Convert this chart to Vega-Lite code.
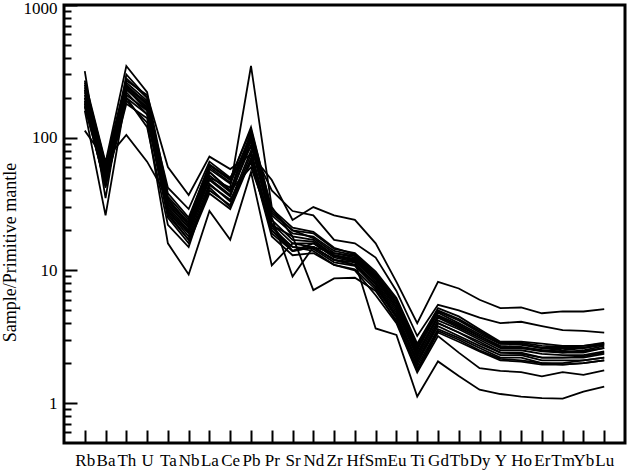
{
  "$schema": "https://vega.github.io/schema/vega-lite/v6.json",
  "width": 561,
  "height": 438,
  "autosize": "none",
  "padding": {"left": 64, "top": 5, "right": 2, "bottom": 29},
  "background": "white",
  "config": {
    "view": {"stroke": "black", "strokeWidth": 3},
    "font": "Liberation Serif"
  },
  "datasets": {
    "spider": [
      {"s":1,"e":"Rb","v":250},{"s":1,"e":"Ba","v":55},{"s":1,"e":"Th","v":270},{"s":1,"e":"U","v":210},{"s":1,"e":"Ta","v":60},{"s":1,"e":"Nb","v":37},{"s":1,"e":"La","v":72},{"s":1,"e":"Ce","v":58},{"s":1,"e":"Pb","v":75},{"s":1,"e":"Pr","v":48},{"s":1,"e":"Sr","v":24},{"s":1,"e":"Nd","v":30},{"s":1,"e":"Zr","v":26},{"s":1,"e":"Hf","v":24},{"s":1,"e":"Sm","v":16},{"s":1,"e":"Eu","v":8.2},{"s":1,"e":"Ti","v":4.0},{"s":1,"e":"Gd","v":8.2},{"s":1,"e":"Tb","v":7.3},{"s":1,"e":"Dy","v":6.0},{"s":1,"e":"Y","v":5.2},{"s":1,"e":"Ho","v":5.25},{"s":1,"e":"Er","v":4.75},{"s":1,"e":"Tm","v":4.9},{"s":1,"e":"Yb","v":4.9},{"s":1,"e":"Lu","v":5.1},
      {"s":2,"e":"Rb","v":230},{"s":2,"e":"Ba","v":62},{"s":2,"e":"Th","v":240},{"s":2,"e":"U","v":185},{"s":2,"e":"Ta","v":42},{"s":2,"e":"Nb","v":29},{"s":2,"e":"La","v":66},{"s":2,"e":"Ce","v":50},{"s":2,"e":"Pb","v":85},{"s":2,"e":"Pr","v":40},{"s":2,"e":"Sr","v":28},{"s":2,"e":"Nd","v":26},{"s":2,"e":"Zr","v":17},{"s":2,"e":"Hf","v":16},{"s":2,"e":"Sm","v":12.5},{"s":2,"e":"Eu","v":7},{"s":2,"e":"Ti","v":3.2},{"s":2,"e":"Gd","v":5.5},{"s":2,"e":"Tb","v":5.0},{"s":2,"e":"Dy","v":4.4},{"s":2,"e":"Y","v":4.0},{"s":2,"e":"Ho","v":4.1},{"s":2,"e":"Er","v":3.8},{"s":2,"e":"Tm","v":3.55},{"s":2,"e":"Yb","v":3.5},{"s":2,"e":"Lu","v":3.4},
      {"s":3,"e":"Rb","v":113},{"s":3,"e":"Ba","v":68},{"s":3,"e":"Th","v":105},{"s":3,"e":"U","v":66},{"s":3,"e":"Ta","v":35},{"s":3,"e":"Nb","v":22},{"s":3,"e":"La","v":55},{"s":3,"e":"Ce","v":40},{"s":3,"e":"Pb","v":60},{"s":3,"e":"Pr","v":22},{"s":3,"e":"Sr","v":14},{"s":3,"e":"Nd","v":16},{"s":3,"e":"Zr","v":12.5},{"s":3,"e":"Hf","v":11.6},{"s":3,"e":"Sm","v":3.65},{"s":3,"e":"Eu","v":3.26},{"s":3,"e":"Ti","v":1.12},{"s":3,"e":"Gd","v":2.06},{"s":3,"e":"Tb","v":1.6},{"s":3,"e":"Dy","v":1.26},{"s":3,"e":"Y","v":1.17},{"s":3,"e":"Ho","v":1.12},{"s":3,"e":"Er","v":1.09},{"s":3,"e":"Tm","v":1.08},{"s":3,"e":"Yb","v":1.22},{"s":3,"e":"Lu","v":1.33},
      {"s":4,"e":"Rb","v":180},{"s":4,"e":"Ba","v":48},{"s":4,"e":"Th","v":200},{"s":4,"e":"U","v":150},{"s":4,"e":"Ta","v":28},{"s":4,"e":"Nb","v":18},{"s":4,"e":"La","v":45},{"s":4,"e":"Ce","v":33},{"s":4,"e":"Pb","v":80},{"s":4,"e":"Pr","v":20},{"s":4,"e":"Sr","v":15},{"s":4,"e":"Nd","v":14},{"s":4,"e":"Zr","v":11},{"s":4,"e":"Hf","v":10},{"s":4,"e":"Sm","v":6.5},{"s":4,"e":"Eu","v":4.0},{"s":4,"e":"Ti","v":1.7},{"s":4,"e":"Gd","v":3.2},{"s":4,"e":"Tb","v":2.4},{"s":4,"e":"Dy","v":1.83},{"s":4,"e":"Y","v":1.75},{"s":4,"e":"Ho","v":1.71},{"s":4,"e":"Er","v":1.59},{"s":4,"e":"Tm","v":1.71},{"s":4,"e":"Yb","v":1.63},{"s":4,"e":"Lu","v":1.76},
      {"s":5,"e":"Rb","v":200},{"s":5,"e":"Ba","v":58},{"s":5,"e":"Th","v":230},{"s":5,"e":"U","v":170},{"s":5,"e":"Ta","v":30},{"s":5,"e":"Nb","v":20},{"s":5,"e":"La","v":50},{"s":5,"e":"Ce","v":42},{"s":5,"e":"Pb","v":347},{"s":5,"e":"Pr","v":30},{"s":5,"e":"Sr","v":18},{"s":5,"e":"Nd","v":17},{"s":5,"e":"Zr","v":13},{"s":5,"e":"Hf","v":12},{"s":5,"e":"Sm","v":8.5},{"s":5,"e":"Eu","v":5.2},{"s":5,"e":"Ti","v":2.3},{"s":5,"e":"Gd","v":4.4},{"s":5,"e":"Tb","v":3.7},{"s":5,"e":"Dy","v":3.1},{"s":5,"e":"Y","v":2.6},{"s":5,"e":"Ho","v":2.6},{"s":5,"e":"Er","v":2.5},{"s":5,"e":"Tm","v":2.4},{"s":5,"e":"Yb","v":2.4},{"s":5,"e":"Lu","v":2.6},
      {"s":6,"e":"Rb","v":170},{"s":6,"e":"Ba","v":45},{"s":6,"e":"Th","v":190},{"s":6,"e":"U","v":130},{"s":6,"e":"Ta","v":16},{"s":6,"e":"Nb","v":9.3},{"s":6,"e":"La","v":28},{"s":6,"e":"Ce","v":17},{"s":6,"e":"Pb","v":55},{"s":6,"e":"Pr","v":10.9},{"s":6,"e":"Sr","v":16},{"s":6,"e":"Nd","v":15},{"s":6,"e":"Zr","v":12},{"s":6,"e":"Hf","v":11},{"s":6,"e":"Sm","v":7.5},{"s":6,"e":"Eu","v":4.5},{"s":6,"e":"Ti","v":2.0},{"s":6,"e":"Gd","v":3.8},{"s":6,"e":"Tb","v":3.2},{"s":6,"e":"Dy","v":2.7},{"s":6,"e":"Y","v":2.3},{"s":6,"e":"Ho","v":2.3},{"s":6,"e":"Er","v":2.1},{"s":6,"e":"Tm","v":2.1},{"s":6,"e":"Yb","v":2.1},{"s":6,"e":"Lu","v":2.2},
      {"s":7,"e":"Rb","v":318},{"s":7,"e":"Ba","v":35},{"s":7,"e":"Th","v":300},{"s":7,"e":"U","v":200},{"s":7,"e":"Ta","v":32},{"s":7,"e":"Nb","v":21},{"s":7,"e":"La","v":55},{"s":7,"e":"Ce","v":40},{"s":7,"e":"Pb","v":110},{"s":7,"e":"Pr","v":25},{"s":7,"e":"Sr","v":9},{"s":7,"e":"Nd","v":15},{"s":7,"e":"Zr","v":13.5},{"s":7,"e":"Hf","v":12.5},{"s":7,"e":"Sm","v":8.8},{"s":7,"e":"Eu","v":5.5},{"s":7,"e":"Ti","v":2.5},{"s":7,"e":"Gd","v":4.8},{"s":7,"e":"Tb","v":4.0},{"s":7,"e":"Dy","v":3.3},{"s":7,"e":"Y","v":2.8},{"s":7,"e":"Ho","v":2.8},{"s":7,"e":"Er","v":2.6},{"s":7,"e":"Tm","v":2.5},{"s":7,"e":"Yb","v":2.6},{"s":7,"e":"Lu","v":2.8},
      {"s":8,"e":"Rb","v":220},{"s":8,"e":"Ba","v":50},{"s":8,"e":"Th","v":250},{"s":8,"e":"U","v":175},{"s":8,"e":"Ta","v":28},{"s":8,"e":"Nb","v":19},{"s":8,"e":"La","v":48},{"s":8,"e":"Ce","v":36},{"s":8,"e":"Pb","v":95},{"s":8,"e":"Pr","v":22},{"s":8,"e":"Sr","v":18},{"s":8,"e":"Nd","v":7.1},{"s":8,"e":"Zr","v":8.7},{"s":8,"e":"Hf","v":8.8},{"s":8,"e":"Sm","v":7.0},{"s":8,"e":"Eu","v":4.2},{"s":8,"e":"Ti","v":1.9},{"s":8,"e":"Gd","v":3.6},{"s":8,"e":"Tb","v":3.1},{"s":8,"e":"Dy","v":2.6},{"s":8,"e":"Y","v":2.2},{"s":8,"e":"Ho","v":2.2},{"s":8,"e":"Er","v":2.0},{"s":8,"e":"Tm","v":2.0},{"s":8,"e":"Yb","v":2.1},{"s":8,"e":"Lu","v":2.2},
      {"s":9,"e":"Rb","v":160},{"s":9,"e":"Ba","v":26},{"s":9,"e":"Th","v":210},{"s":9,"e":"U","v":160},{"s":9,"e":"Ta","v":27},{"s":9,"e":"Nb","v":17},{"s":9,"e":"La","v":42},{"s":9,"e":"Ce","v":30},{"s":9,"e":"Pb","v":70},{"s":9,"e":"Pr","v":19},{"s":9,"e":"Sr","v":14},{"s":9,"e":"Nd","v":15},{"s":9,"e":"Zr","v":12},{"s":9,"e":"Hf","v":11.5},{"s":9,"e":"Sm","v":7.8},{"s":9,"e":"Eu","v":4.6},{"s":9,"e":"Ti","v":2.1},{"s":9,"e":"Gd","v":4.0},{"s":9,"e":"Tb","v":3.4},{"s":9,"e":"Dy","v":2.8},{"s":9,"e":"Y","v":2.4},{"s":9,"e":"Ho","v":2.4},{"s":9,"e":"Er","v":2.2},{"s":9,"e":"Tm","v":2.2},{"s":9,"e":"Yb","v":2.2},{"s":9,"e":"Lu","v":2.35},
      {"s":10,"e":"Rb","v":270},{"s":10,"e":"Ba","v":65},{"s":10,"e":"Th","v":347},{"s":10,"e":"U","v":220},{"s":10,"e":"Ta","v":38},{"s":10,"e":"Nb","v":25},{"s":10,"e":"La","v":62},{"s":10,"e":"Ce","v":48},{"s":10,"e":"Pb","v":120},{"s":10,"e":"Pr","v":28},{"s":10,"e":"Sr","v":20},{"s":10,"e":"Nd","v":19},{"s":10,"e":"Zr","v":14.5},{"s":10,"e":"Hf","v":13.5},{"s":10,"e":"Sm","v":9.8},{"s":10,"e":"Eu","v":6.2},{"s":10,"e":"Ti","v":2.8},{"s":10,"e":"Gd","v":5.2},{"s":10,"e":"Tb","v":4.5},{"s":10,"e":"Dy","v":3.6},{"s":10,"e":"Y","v":2.9},{"s":10,"e":"Ho","v":2.9},{"s":10,"e":"Er","v":2.8},{"s":10,"e":"Tm","v":2.7},{"s":10,"e":"Yb","v":2.7},{"s":10,"e":"Lu","v":2.85},
      {"s":11,"e":"Rb","v":240},{"s":11,"e":"Ba","v":60},{"s":11,"e":"Th","v":260},{"s":11,"e":"U","v":190},{"s":11,"e":"Ta","v":33},{"s":11,"e":"Nb","v":22},{"s":11,"e":"La","v":58},{"s":11,"e":"Ce","v":45},{"s":11,"e":"Pb","v":105},{"s":11,"e":"Pr","v":26},{"s":11,"e":"Sr","v":19},{"s":11,"e":"Nd","v":18},{"s":11,"e":"Zr","v":14},{"s":11,"e":"Hf","v":13},{"s":11,"e":"Sm","v":9.2},{"s":11,"e":"Eu","v":5.8},{"s":11,"e":"Ti","v":2.6},{"s":11,"e":"Gd","v":4.9},{"s":11,"e":"Tb","v":4.2},{"s":11,"e":"Dy","v":3.4},{"s":11,"e":"Y","v":2.8},{"s":11,"e":"Ho","v":2.75},{"s":11,"e":"Er","v":2.6},{"s":11,"e":"Tm","v":2.6},{"s":11,"e":"Yb","v":2.6},{"s":11,"e":"Lu","v":2.75},
      {"s":12,"e":"Rb","v":190},{"s":12,"e":"Ba","v":42},{"s":12,"e":"Th","v":220},{"s":12,"e":"U","v":150},{"s":12,"e":"Ta","v":26},{"s":12,"e":"Nb","v":17},{"s":12,"e":"La","v":40},{"s":12,"e":"Ce","v":31},{"s":12,"e":"Pb","v":75},{"s":12,"e":"Pr","v":21},{"s":12,"e":"Sr","v":15},{"s":12,"e":"Nd","v":14.5},{"s":12,"e":"Zr","v":11.5},{"s":12,"e":"Hf","v":10.8},{"s":12,"e":"Sm","v":7.5},{"s":12,"e":"Eu","v":4.4},{"s":12,"e":"Ti","v":1.8},{"s":12,"e":"Gd","v":3.5},{"s":12,"e":"Tb","v":3.0},{"s":12,"e":"Dy","v":2.5},{"s":12,"e":"Y","v":2.15},{"s":12,"e":"Ho","v":2.1},{"s":12,"e":"Er","v":2.0},{"s":12,"e":"Tm","v":1.95},{"s":12,"e":"Yb","v":2.0},{"s":12,"e":"Lu","v":2.1},
      {"s":13,"e":"Rb","v":210},{"s":13,"e":"Ba","v":54},{"s":13,"e":"Th","v":245},{"s":13,"e":"U","v":165},{"s":13,"e":"Ta","v":31},{"s":13,"e":"Nb","v":21},{"s":13,"e":"La","v":52},{"s":13,"e":"Ce","v":39},{"s":13,"e":"Pb","v":100},{"s":13,"e":"Pr","v":24},{"s":13,"e":"Sr","v":17},{"s":13,"e":"Nd","v":16.5},{"s":13,"e":"Zr","v":13},{"s":13,"e":"Hf","v":12.2},{"s":13,"e":"Sm","v":8.6},{"s":13,"e":"Eu","v":5.3},{"s":13,"e":"Ti","v":2.4},{"s":13,"e":"Gd","v":4.5},{"s":13,"e":"Tb","v":3.8},{"s":13,"e":"Dy","v":3.2},{"s":13,"e":"Y","v":2.7},{"s":13,"e":"Ho","v":2.65},{"s":13,"e":"Er","v":2.5},{"s":13,"e":"Tm","v":2.45},{"s":13,"e":"Yb","v":2.45},{"s":13,"e":"Lu","v":2.6},
      {"s":14,"e":"Rb","v":260},{"s":14,"e":"Ba","v":63},{"s":14,"e":"Th","v":280},{"s":14,"e":"U","v":200},{"s":14,"e":"Ta","v":36},{"s":14,"e":"Nb","v":24},{"s":14,"e":"La","v":63},{"s":14,"e":"Ce","v":49},{"s":14,"e":"Pb","v":115},{"s":14,"e":"Pr","v":29},{"s":14,"e":"Sr","v":21},{"s":14,"e":"Nd","v":19.5},{"s":14,"e":"Zr","v":14.8},{"s":14,"e":"Hf","v":13.2},{"s":14,"e":"Sm","v":9.5},{"s":14,"e":"Eu","v":6.0},{"s":14,"e":"Ti","v":2.7},{"s":14,"e":"Gd","v":5.0},{"s":14,"e":"Tb","v":4.3},{"s":14,"e":"Dy","v":3.5},{"s":14,"e":"Y","v":2.85},{"s":14,"e":"Ho","v":2.85},{"s":14,"e":"Er","v":2.7},{"s":14,"e":"Tm","v":2.65},{"s":14,"e":"Yb","v":2.7},{"s":14,"e":"Lu","v":2.8},
      {"s":15,"e":"Rb","v":175},{"s":15,"e":"Ba","v":44},{"s":15,"e":"Th","v":180},{"s":15,"e":"U","v":140},{"s":15,"e":"Ta","v":25},{"s":15,"e":"Nb","v":16},{"s":15,"e":"La","v":38},{"s":15,"e":"Ce","v":29},{"s":15,"e":"Pb","v":68},{"s":15,"e":"Pr","v":18},{"s":15,"e":"Sr","v":13},{"s":15,"e":"Nd","v":13.5},{"s":15,"e":"Zr","v":11},{"s":15,"e":"Hf","v":10.2},{"s":15,"e":"Sm","v":7.2},{"s":15,"e":"Eu","v":4.1},{"s":15,"e":"Ti","v":1.75},{"s":15,"e":"Gd","v":3.4},{"s":15,"e":"Tb","v":2.9},{"s":15,"e":"Dy","v":2.45},{"s":15,"e":"Y","v":2.1},{"s":15,"e":"Ho","v":2.05},{"s":15,"e":"Er","v":1.95},{"s":15,"e":"Tm","v":1.95},{"s":15,"e":"Yb","v":2.0},{"s":15,"e":"Lu","v":2.1},
      {"s":16,"e":"Rb","v":200},{"s":16,"e":"Ba","v":52},{"s":16,"e":"Th","v":235},{"s":16,"e":"U","v":160},{"s":16,"e":"Ta","v":29},{"s":16,"e":"Nb","v":19.5},{"s":16,"e":"La","v":49},{"s":16,"e":"Ce","v":37},{"s":16,"e":"Pb","v":88},{"s":16,"e":"Pr","v":22.5},{"s":16,"e":"Sr","v":16},{"s":16,"e":"Nd","v":16},{"s":16,"e":"Zr","v":12.8},{"s":16,"e":"Hf","v":11.8},{"s":16,"e":"Sm","v":8.2},{"s":16,"e":"Eu","v":5.0},{"s":16,"e":"Ti","v":2.2},{"s":16,"e":"Gd","v":4.2},{"s":16,"e":"Tb","v":3.6},{"s":16,"e":"Dy","v":3.0},{"s":16,"e":"Y","v":2.5},{"s":16,"e":"Ho","v":2.5},{"s":16,"e":"Er","v":2.35},{"s":16,"e":"Tm","v":2.3},{"s":16,"e":"Yb","v":2.3},{"s":16,"e":"Lu","v":2.45},
      {"s":17,"e":"Rb","v":230},{"s":17,"e":"Ba","v":57},{"s":17,"e":"Th","v":250},{"s":17,"e":"U","v":180},{"s":17,"e":"Ta","v":34},{"s":17,"e":"Nb","v":23},{"s":17,"e":"La","v":60},{"s":17,"e":"Ce","v":46},{"s":17,"e":"Pb","v":100},{"s":17,"e":"Pr","v":27},{"s":17,"e":"Sr","v":20},{"s":17,"e":"Nd","v":17.5},{"s":17,"e":"Zr","v":13.5},{"s":17,"e":"Hf","v":12.8},{"s":17,"e":"Sm","v":9.0},{"s":17,"e":"Eu","v":5.6},{"s":17,"e":"Ti","v":2.3},{"s":17,"e":"Gd","v":4.6},{"s":17,"e":"Tb","v":3.9},{"s":17,"e":"Dy","v":3.2},{"s":17,"e":"Y","v":2.65},{"s":17,"e":"Ho","v":2.6},{"s":17,"e":"Er","v":2.45},{"s":17,"e":"Tm","v":2.4},{"s":17,"e":"Yb","v":2.5},{"s":17,"e":"Lu","v":2.7},
      {"s":18,"e":"Rb","v":185},{"s":18,"e":"Ba","v":47},{"s":18,"e":"Th","v":200},{"s":18,"e":"U","v":120},{"s":18,"e":"Ta","v":22},{"s":18,"e":"Nb","v":15},{"s":18,"e":"La","v":44},{"s":18,"e":"Ce","v":34},{"s":18,"e":"Pb","v":65},{"s":18,"e":"Pr","v":20},{"s":18,"e":"Sr","v":14},{"s":18,"e":"Nd","v":15},{"s":18,"e":"Zr","v":12},{"s":18,"e":"Hf","v":11},{"s":18,"e":"Sm","v":8},{"s":18,"e":"Eu","v":4.8},{"s":18,"e":"Ti","v":2.0},{"s":18,"e":"Gd","v":4.0},{"s":18,"e":"Tb","v":3.4},{"s":18,"e":"Dy","v":2.9},{"s":18,"e":"Y","v":2.4},{"s":18,"e":"Ho","v":2.35},{"s":18,"e":"Er","v":2.2},{"s":18,"e":"Tm","v":2.2},{"s":18,"e":"Yb","v":2.25},{"s":18,"e":"Lu","v":2.4}
    ]
  },
  "data": {"name": "spider"},
  "mark": {"type": "line", "color": "black", "strokeWidth": 1.8, "strokeJoin": "miter"},
  "encoding": {
    "x": {
      "field": "e",
      "type": "ordinal",
      "sort": ["Rb","Ba","Th","U","Ta","Nb","La","Ce","Pb","Pr","Sr","Nd","Zr","Hf","Sm","Eu","Ti","Gd","Tb","Dy","Y","Ho","Er","Tm","Yb","Lu"],
      "scale": {"type": "point", "padding": 1},
      "axis": {
        "title": null,
        "domain": false,
        "grid": false,
        "labelAngle": 0,
        "labelFont": "Liberation Serif",
        "labelFontSize": 17,
        "labelColor": "black",
        "labelPadding": 22,
        "tickSize": -13,
        "tickWidth": 2,
        "tickColor": "black"
      }
    },
    "y": {
      "field": "v",
      "type": "quantitative",
      "scale": {"type": "log", "domain": [0.5, 1000], "nice": false},
      "axis": {
        "title": "Sample/Primitive mantle",
        "titleFont": "Liberation Serif",
        "titleFontSize": 18,
        "titleFontWeight": "normal",
        "titleColor": "black",
        "titleAngle": -90,
        "titleAlign": "center",
        "titleBaseline": "alphabetic",
        "titleX": -49,
        "titleY": 247,
        "domain": false,
        "grid": false,
        "values": [0.6,0.7,0.8,0.9,1,2,3,4,5,6,7,8,9,10,20,30,40,50,60,70,80,90,100,200,300,400,500,600,700,800,900,1000],
        "labelExpr": "(datum.value == 1 || datum.value == 10 || datum.value == 100 || datum.value == 1000) ? format(datum.value, 'd') : ''",
        "labelOverlap": false,
        "labelFont": "Liberation Serif",
        "labelFontSize": 17,
        "labelColor": "black",
        "labelPadding": 20,
        "labelOffset": {"condition": {"test": "datum.value == 1000", "value": 3}, "value": 0},
        "tickSize": {"condition": {"test": "datum.value == 1 || datum.value == 10 || datum.value == 100 || datum.value == 1000", "value": -13}, "value": -7},
        "tickWidth": 2,
        "tickColor": "black"
      }
    },
    "detail": {"field": "s", "type": "nominal"},
    "order": {"value": null}
  }
}
